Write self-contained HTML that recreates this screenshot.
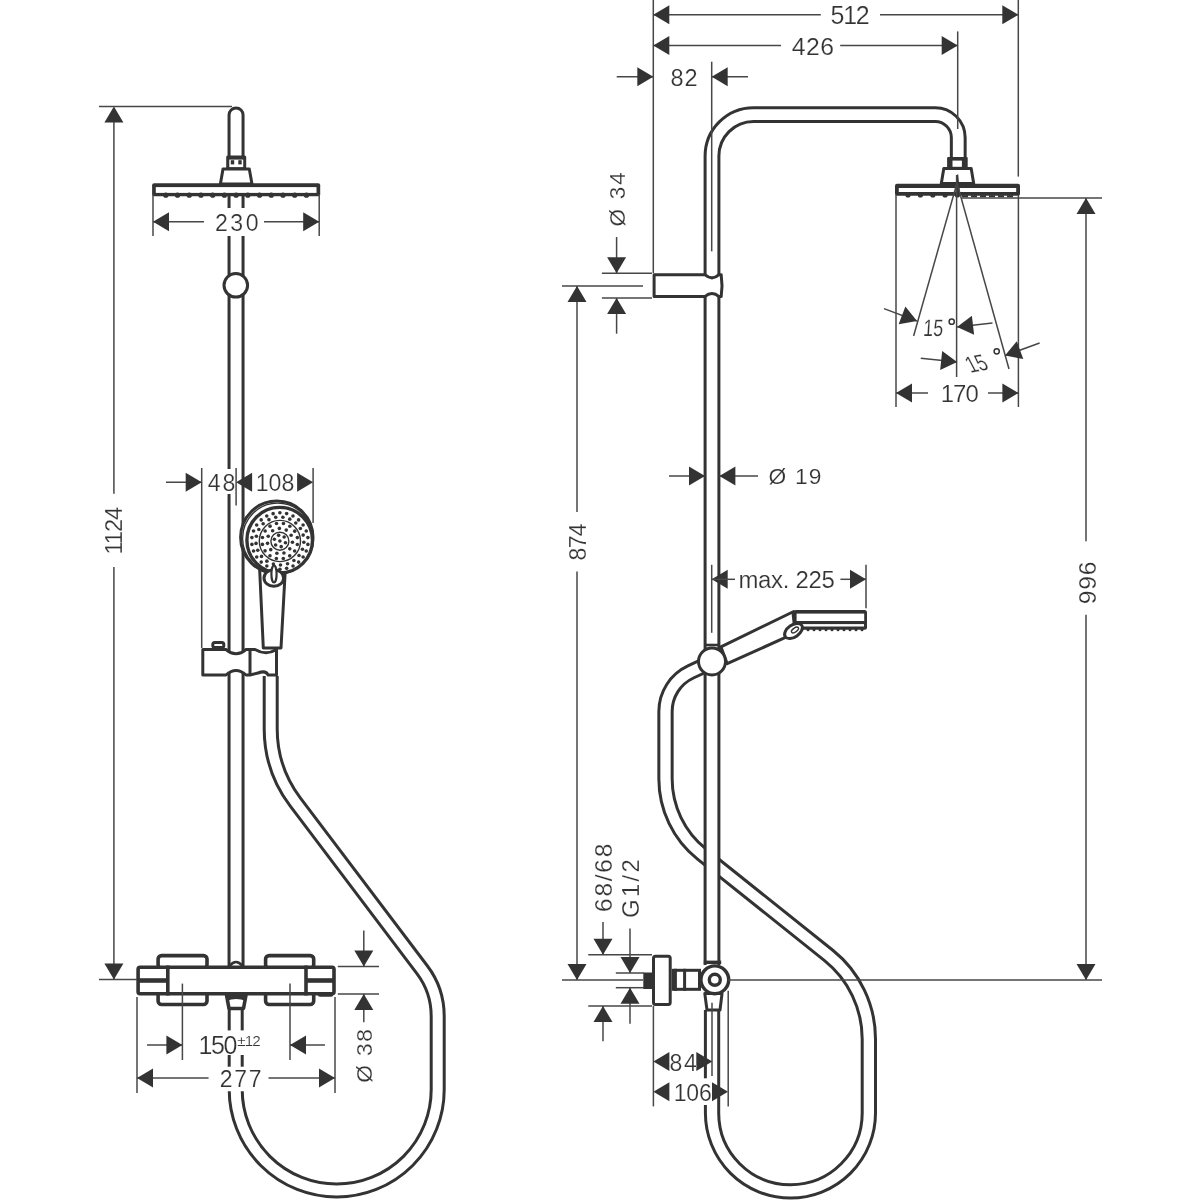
<!DOCTYPE html>
<html><head><meta charset="utf-8"><style>
html,body{margin:0;padding:0;background:#fff;width:1200px;height:1200px;overflow:hidden}
svg{display:block;will-change:transform}
text{font-family:"Liberation Sans",sans-serif;fill:#333;stroke:#fff;stroke-width:0.2px}
</style></head><body>
<svg width="1200" height="1200" viewBox="0 0 1200 1200">
<rect width="1200" height="1200" fill="#fff"/>
<path d="M270.7,676 L270.7,728.73 A121.5,121.5 0 0 0 295.3,802.02 L422.11,969.69 A77,77 0 0 1 437.7,1016.14 L437.7,1089.5 A101,101 0 0 1 235.7,1089.5 L235.7,1004" fill="none" stroke="#333" stroke-width="16" stroke-linecap="butt" stroke-linejoin="round"/>
<path d="M270.7,676 L270.7,728.73 A121.5,121.5 0 0 0 295.3,802.02 L422.11,969.69 A77,77 0 0 1 437.7,1016.14 L437.7,1089.5 A101,101 0 0 1 235.7,1089.5 L235.7,1004" fill="none" stroke="#fff" stroke-width="10" stroke-linecap="butt" stroke-linejoin="round"/>
<path d="M236.05,115 L236.05,966" fill="none" stroke="#333" stroke-width="17" stroke-linecap="round" stroke-linejoin="round"/>
<path d="M236.05,115 L236.05,966" fill="none" stroke="#fff" stroke-width="11" stroke-linecap="round" stroke-linejoin="round"/>
<rect x="226.2" y="155.4" width="20" height="14" rx="1.5" fill="#333"/>
<rect x="229.3" y="159.6" width="13.9" height="7.6" fill="#fff"/>
<rect x="230.8" y="160.2" width="3.4" height="4.2" fill="#333"/>
<rect x="238.3" y="160.2" width="3.4" height="4.2" fill="#333"/>
<polygon points="223,169 249.3,169 252,184 220.4,184" fill="#fff" stroke="#333" stroke-width="3.0" stroke-linejoin="round" />
<rect x="152.1" y="183.3" width="168.1" height="13" rx="2" fill="#333"/>
<rect x="155.8" y="187.1" width="160.7" height="5.8" fill="#fff"/>
<circle cx="165.8" cy="195.2" r="2.6" fill="#333"/>
<circle cx="177.52" cy="195.2" r="2.6" fill="#333"/>
<circle cx="189.24" cy="195.2" r="2.6" fill="#333"/>
<circle cx="200.96" cy="195.2" r="2.6" fill="#333"/>
<circle cx="212.68" cy="195.2" r="2.6" fill="#333"/>
<circle cx="224.4" cy="195.2" r="2.6" fill="#333"/>
<circle cx="236.12" cy="195.2" r="2.6" fill="#333"/>
<circle cx="247.84" cy="195.2" r="2.6" fill="#333"/>
<circle cx="259.56" cy="195.2" r="2.6" fill="#333"/>
<circle cx="271.28" cy="195.2" r="2.6" fill="#333"/>
<circle cx="283" cy="195.2" r="2.6" fill="#333"/>
<circle cx="294.72" cy="195.2" r="2.6" fill="#333"/>
<circle cx="306.44" cy="195.2" r="2.6" fill="#333"/>
<circle cx="235.8" cy="285.3" r="11.8" fill="#fff" stroke="#333" stroke-width="3.0"/>
<polygon points="259.5,566 285.5,566 281,648 263.3,648" fill="#fff" stroke="#333" stroke-width="3.0" stroke-linejoin="round" />
<circle cx="276.8" cy="537.3" r="36.2" fill="#fff" stroke="#333" stroke-width="3.0"/>
<circle cx="277.6" cy="538.2" r="35" fill="none" stroke="#333" stroke-width="1.3"/>
<circle cx="279.7" cy="540.2" r="32.8" fill="#fff" stroke="#333" stroke-width="3.4"/>
<circle cx="279.9" cy="541" r="20.6" fill="none" stroke="#333" stroke-width="1.4"/>
<circle cx="279.9" cy="541.2" r="9" fill="none" stroke="#333" stroke-width="1.4"/>
<circle cx="279.9" cy="541" r="1.8" fill="#333"/><circle cx="285.44" cy="542.71" r="1.8" fill="#333"/><circle cx="281.19" cy="546.66" r="1.8" fill="#333"/><circle cx="275.65" cy="544.94" r="1.8" fill="#333"/><circle cx="274.36" cy="539.29" r="1.8" fill="#333"/><circle cx="278.61" cy="535.34" r="1.8" fill="#333"/><circle cx="284.15" cy="537.06" r="1.8" fill="#333"/><circle cx="292.44" cy="542.26" r="1.8" fill="#333"/><circle cx="289.77" cy="548.84" r="1.8" fill="#333"/><circle cx="283.96" cy="552.93" r="1.8" fill="#333"/><circle cx="276.87" cy="553.23" r="1.8" fill="#333"/><circle cx="270.74" cy="549.65" r="1.8" fill="#333"/><circle cx="267.52" cy="543.33" r="1.8" fill="#333"/><circle cx="268.23" cy="536.26" r="1.8" fill="#333"/><circle cx="272.64" cy="530.7" r="1.8" fill="#333"/><circle cx="279.36" cy="528.41" r="1.8" fill="#333"/><circle cx="286.25" cy="530.12" r="1.8" fill="#333"/><circle cx="291.13" cy="535.28" r="1.8" fill="#333"/><circle cx="297.35" cy="544.54" r="1.8" fill="#333"/><circle cx="294.66" cy="550.94" r="1.8" fill="#333"/><circle cx="289.74" cy="555.84" r="1.8" fill="#333"/><circle cx="283.31" cy="558.47" r="1.8" fill="#333"/><circle cx="276.36" cy="558.45" r="1.8" fill="#333"/><circle cx="269.96" cy="555.76" r="1.8" fill="#333"/><circle cx="265.06" cy="550.84" r="1.8" fill="#333"/><circle cx="262.43" cy="544.41" r="1.8" fill="#333"/><circle cx="262.45" cy="537.46" r="1.8" fill="#333"/><circle cx="265.14" cy="531.06" r="1.8" fill="#333"/><circle cx="270.06" cy="526.16" r="1.8" fill="#333"/><circle cx="276.49" cy="523.53" r="1.8" fill="#333"/><circle cx="283.44" cy="523.55" r="1.8" fill="#333"/><circle cx="289.84" cy="526.24" r="1.8" fill="#333"/><circle cx="294.74" cy="531.16" r="1.8" fill="#333"/><circle cx="297.37" cy="537.59" r="1.8" fill="#333"/><circle cx="303.87" cy="542.2" r="1.8" fill="#333"/><circle cx="302.45" cy="549.21" r="1.8" fill="#333"/><circle cx="299.03" cy="555.49" r="1.8" fill="#333"/><circle cx="293.91" cy="560.49" r="1.8" fill="#333"/><circle cx="287.54" cy="563.75" r="1.8" fill="#333"/><circle cx="280.5" cy="564.99" r="1.8" fill="#333"/><circle cx="273.4" cy="564.1" r="1.8" fill="#333"/><circle cx="266.88" cy="561.16" r="1.8" fill="#333"/><circle cx="261.51" cy="556.42" r="1.8" fill="#333"/><circle cx="257.78" cy="550.32" r="1.8" fill="#333"/><circle cx="256.02" cy="543.39" r="1.8" fill="#333"/><circle cx="256.38" cy="536.24" r="1.8" fill="#333"/><circle cx="258.82" cy="529.52" r="1.8" fill="#333"/><circle cx="263.14" cy="523.82" r="1.8" fill="#333"/><circle cx="268.95" cy="519.64" r="1.8" fill="#333"/><circle cx="275.74" cy="517.36" r="1.8" fill="#333"/><circle cx="282.89" cy="517.19" r="1.8" fill="#333"/><circle cx="289.77" cy="519.13" r="1.8" fill="#333"/><circle cx="295.78" cy="523.01" r="1.8" fill="#333"/><circle cx="300.38" cy="528.49" r="1.8" fill="#333"/><circle cx="303.16" cy="535.08" r="1.8" fill="#333"/><circle cx="307.9" cy="544.38" r="1.8" fill="#333"/><circle cx="306.28" cy="550.98" r="1.8" fill="#333"/><circle cx="303.12" cy="557" r="1.8" fill="#333"/><circle cx="298.62" cy="562.09" r="1.8" fill="#333"/><circle cx="293.03" cy="565.96" r="1.8" fill="#333"/><circle cx="286.67" cy="568.37" r="1.8" fill="#333"/><circle cx="279.92" cy="569.2" r="1.8" fill="#333"/><circle cx="273.17" cy="568.39" r="1.8" fill="#333"/><circle cx="266.82" cy="565.98" r="1.8" fill="#333"/><circle cx="261.22" cy="562.12" r="1.8" fill="#333"/><circle cx="256.71" cy="557.04" r="1.8" fill="#333"/><circle cx="253.54" cy="551.02" r="1.8" fill="#333"/><circle cx="251.91" cy="544.42" r="1.8" fill="#333"/><circle cx="251.9" cy="537.62" r="1.8" fill="#333"/><circle cx="253.52" cy="531.02" r="1.8" fill="#333"/><circle cx="256.68" cy="525" r="1.8" fill="#333"/><circle cx="261.18" cy="519.91" r="1.8" fill="#333"/><circle cx="266.77" cy="516.04" r="1.8" fill="#333"/><circle cx="273.13" cy="513.63" r="1.8" fill="#333"/><circle cx="279.88" cy="512.8" r="1.8" fill="#333"/><circle cx="286.63" cy="513.61" r="1.8" fill="#333"/><circle cx="292.98" cy="516.02" r="1.8" fill="#333"/><circle cx="298.58" cy="519.88" r="1.8" fill="#333"/><circle cx="303.09" cy="524.96" r="1.8" fill="#333"/><circle cx="306.26" cy="530.98" r="1.8" fill="#333"/><circle cx="307.89" cy="537.58" r="1.8" fill="#333"/>
<ellipse cx="273.8" cy="578" rx="9.8" ry="8.2" fill="#fff" stroke="#333" stroke-width="3"/>
<ellipse cx="274" cy="574" rx="2.6" ry="8.5" fill="#fff" stroke="#333" stroke-width="2.2"/>
<path d="M202.8,649.5 L226,649.5 Q236,658 246,649.5 L255,649.5 Q266,656 276.5,649.5 L276.5,675 L268,675 Q266,670 258,673 L250,675 L246,675 Q236,666 226,675 L202.8,675 Z" fill="#fff" stroke="#333" stroke-width="3.0" stroke-linejoin="round" />
<line x1="250" y1="649.5" x2="250" y2="675" stroke="#333" stroke-width="3.0" stroke-linecap="butt"/>
<rect x="212.8" y="642.5" width="11" height="5" rx="2" fill="#fff" stroke="#333" stroke-width="3.0"/>
<rect x="158.1" y="955.6" width="48.9" height="12.6" rx="3.5" fill="#fff" stroke="#333" stroke-width="3.6"/>
<rect x="265.6" y="955.6" width="48.1" height="12.6" rx="3.5" fill="#fff" stroke="#333" stroke-width="3.6"/>
<rect x="158.1" y="991.8" width="48.9" height="12.7" rx="3.5" fill="#fff" stroke="#333" stroke-width="3.6"/>
<rect x="265.6" y="991.8" width="48.1" height="12.7" rx="3.5" fill="#fff" stroke="#333" stroke-width="3.6"/>
<rect x="138.1" y="967.3" width="195.9" height="26.4" rx="2" fill="#fff" stroke="#333" stroke-width="3.6"/>
<line x1="167.8" y1="965.5" x2="167.8" y2="995.5" stroke="#333" stroke-width="3.6" stroke-linecap="butt"/>
<line x1="306" y1="965.5" x2="306" y2="995.5" stroke="#333" stroke-width="3.6" stroke-linecap="butt"/>
<line x1="137" y1="980.5" x2="167.8" y2="980.5" stroke="#333" stroke-width="4.6" stroke-linecap="butt"/>
<line x1="306" y1="980.5" x2="335" y2="980.5" stroke="#333" stroke-width="4.6" stroke-linecap="butt"/>
<polygon points="226.5,995 246,995 243.5,1008.5 229,1008.5" fill="#fff" stroke="#333" stroke-width="3.6" stroke-linejoin="round" />
<path d="M225.5,993.5 L247,993.5 L246,1001 Q236,997 226.5,1001 Z" fill="#333"/>
<path d="M229.5,966 Q236,958 242.5,966" fill="none" stroke="#333" stroke-width="2.6"/>
<line x1="320" y1="994.5" x2="331" y2="994.5" stroke="#333" stroke-width="4.5" stroke-linecap="round"/>
<line x1="99" y1="106.6" x2="232" y2="106.6" stroke="#474747" stroke-width="1.5" stroke-linecap="butt"/>
<line x1="99" y1="979.4" x2="137" y2="979.4" stroke="#474747" stroke-width="1.5" stroke-linecap="butt"/>
<line x1="113.9" y1="108" x2="113.9" y2="493.7" stroke="#474747" stroke-width="1.5" stroke-linecap="butt"/>
<line x1="113.9" y1="567.1" x2="113.9" y2="980" stroke="#474747" stroke-width="1.5" stroke-linecap="butt"/>
<polygon points="113.9,106.6 123.4,122.6 104.4,122.6" fill="#333" stroke="none" stroke-width="0" stroke-linejoin="round" />
<polygon points="113.9,979.4 104.4,963.4 123.4,963.4" fill="#333" stroke="none" stroke-width="0" stroke-linejoin="round" />
<text x="113.88" y="539.06" font-size="23.62" text-anchor="middle" textLength="47.66" lengthAdjust="spacing" transform="rotate(-90 113.88 530.68)">1124</text>
<line x1="153" y1="194" x2="153" y2="236" stroke="#474747" stroke-width="1.5" stroke-linecap="butt"/>
<line x1="319.2" y1="194" x2="319.2" y2="236" stroke="#474747" stroke-width="1.5" stroke-linecap="butt"/>
<line x1="153" y1="221.7" x2="204" y2="221.7" stroke="#474747" stroke-width="1.5" stroke-linecap="butt"/>
<line x1="264" y1="221.7" x2="319.2" y2="221.7" stroke="#474747" stroke-width="1.5" stroke-linecap="butt"/>
<polygon points="153,221.7 169,212.2 169,231.2" fill="#333" stroke="none" stroke-width="0" stroke-linejoin="round" />
<polygon points="319.2,221.7 303.2,231.2 303.2,212.2" fill="#333" stroke="none" stroke-width="0" stroke-linejoin="round" />
<rect x="204" y="208" width="60" height="28" fill="#fff"/>
<text x="236.76" y="230.81" font-size="23.12" text-anchor="middle" textLength="43.58" lengthAdjust="spacing">230</text>
<line x1="201.7" y1="468" x2="201.7" y2="648" stroke="#474747" stroke-width="1.5" stroke-linecap="butt"/>
<line x1="313.1" y1="468" x2="313.1" y2="523" stroke="#474747" stroke-width="1.5" stroke-linecap="butt"/>
<line x1="166" y1="482.2" x2="201.7" y2="482.2" stroke="#474747" stroke-width="1.5" stroke-linecap="butt"/>
<polygon points="201.7,482.2 185.7,491.7 185.7,472.7" fill="#333" stroke="none" stroke-width="0" stroke-linejoin="round" />
<rect x="206" y="469" width="29" height="25" fill="#fff"/>
<text x="221.5" y="491.33" font-size="23.14" text-anchor="middle" textLength="27.54" lengthAdjust="spacing">48</text>
<line x1="236.1" y1="468" x2="236.1" y2="505.5" stroke="#474747" stroke-width="1.5" stroke-linecap="butt"/>
<polygon points="236.1,482.2 252.1,472.7 252.1,491.7" fill="#333" stroke="none" stroke-width="0" stroke-linejoin="round" />
<text x="275" y="491.33" font-size="23.14" text-anchor="middle" textLength="38.54" lengthAdjust="spacing">108</text>
<polygon points="313.1,482.2 297.1,491.7 297.1,472.7" fill="#333" stroke="none" stroke-width="0" stroke-linejoin="round" />
<line x1="182.4" y1="983.6" x2="182.4" y2="1060" stroke="#474747" stroke-width="1.5" stroke-linecap="butt"/>
<line x1="290" y1="983.6" x2="290" y2="1060" stroke="#474747" stroke-width="1.5" stroke-linecap="butt"/>
<line x1="147" y1="1045" x2="182.4" y2="1045" stroke="#474747" stroke-width="1.5" stroke-linecap="butt"/>
<polygon points="182.4,1045 166.4,1054.5 166.4,1035.5" fill="#333" stroke="none" stroke-width="0" stroke-linejoin="round" />
<line x1="290" y1="1045" x2="325" y2="1045" stroke="#474747" stroke-width="1.5" stroke-linecap="butt"/>
<polygon points="290,1045 306,1035.5 306,1054.5" fill="#333" stroke="none" stroke-width="0" stroke-linejoin="round" />
<rect x="197" y="1030.4" width="65" height="24.6" fill="#fff"/>
<text x="218" y="1054.41" font-size="24.98" text-anchor="middle" textLength="38.78" lengthAdjust="spacing">150</text>
<text x="249.04" y="1045.53" font-size="15.25" text-anchor="middle" textLength="23.42" lengthAdjust="spacing">±12</text>
<line x1="137" y1="997" x2="137" y2="1093" stroke="#474747" stroke-width="1.5" stroke-linecap="butt"/>
<line x1="335" y1="997" x2="335" y2="1093" stroke="#474747" stroke-width="1.5" stroke-linecap="butt"/>
<line x1="137" y1="1078" x2="208.75" y2="1078" stroke="#474747" stroke-width="1.5" stroke-linecap="butt"/>
<line x1="268.3" y1="1078" x2="335" y2="1078" stroke="#474747" stroke-width="1.5" stroke-linecap="butt"/>
<polygon points="137,1078 153,1068.5 153,1087.5" fill="#333" stroke="none" stroke-width="0" stroke-linejoin="round" />
<polygon points="335,1078 319,1087.5 319,1068.5" fill="#333" stroke="none" stroke-width="0" stroke-linejoin="round" />
<rect x="208.75" y="1066.7" width="59.55" height="24.55" fill="#fff"/>
<text x="240.64" y="1087.34" font-size="23.03" text-anchor="middle" textLength="41.74" lengthAdjust="spacing">277</text>
<line x1="337.8" y1="966.6" x2="379" y2="966.6" stroke="#474747" stroke-width="1.5" stroke-linecap="butt"/>
<line x1="337.8" y1="993.9" x2="379" y2="993.9" stroke="#474747" stroke-width="1.5" stroke-linecap="butt"/>
<line x1="363.8" y1="930.4" x2="363.8" y2="966.6" stroke="#474747" stroke-width="1.5" stroke-linecap="butt"/>
<polygon points="363.8,966.6 354.3,950.6 373.3,950.6" fill="#333" stroke="none" stroke-width="0" stroke-linejoin="round" />
<line x1="363.8" y1="993.9" x2="363.8" y2="1022.3" stroke="#474747" stroke-width="1.5" stroke-linecap="butt"/>
<polygon points="363.8,993.9 373.3,1009.9 354.3,1009.9" fill="#333" stroke="none" stroke-width="0" stroke-linejoin="round" />
<text x="364.16" y="1063.99" font-size="22.72" text-anchor="middle" textLength="53.5" lengthAdjust="spacing" transform="rotate(-90 364.16 1055.92)">Ø 38</text>
<path d="M712,662 L690.66,671.96 A43.6,43.6 0 0 0 665.5,711.47 L665.5,778.7 A96.3,96.3 0 0 0 701.66,853.91 L828.67,955.47 A107,107 0 0 1 868.85,1039.04 L868.85,1113 A78.4,78.4 0 0 1 712.05,1113 L712.05,1010" fill="none" stroke="#333" stroke-width="16.3" stroke-linecap="butt" stroke-linejoin="round"/>
<path d="M712,662 L690.66,671.96 A43.6,43.6 0 0 0 665.5,711.47 L665.5,778.7 A96.3,96.3 0 0 0 701.66,853.91 L828.67,955.47 A107,107 0 0 1 868.85,1039.04 L868.85,1113 A78.4,78.4 0 0 1 712.05,1113 L712.05,1010" fill="none" stroke="#fff" stroke-width="10.3" stroke-linecap="butt" stroke-linejoin="round"/>
<path d="M712,965 L712,156.1 A41.5,41.5 0 0 1 753.5,114.6 L935.25,114.6 A23,23 0 0 1 958.25,137.6 L958.25,157" fill="none" stroke="#333" stroke-width="16.8" stroke-linecap="butt" stroke-linejoin="round"/>
<path d="M712,965 L712,156.1 A41.5,41.5 0 0 1 753.5,114.6 L935.25,114.6 A23,23 0 0 1 958.25,137.6 L958.25,157" fill="none" stroke="#fff" stroke-width="10.8" stroke-linecap="butt" stroke-linejoin="round"/>
<line x1="711.7" y1="61.7" x2="711.7" y2="251.4" stroke="#474747" stroke-width="1.5" stroke-linecap="butt"/>
<rect x="947.1" y="156.9" width="20.6" height="12" rx="1" fill="#333"/>
<rect x="952.5" y="160.6" width="9.4" height="6.2" fill="#fff"/>
<polygon points="943.8,168.5 971.2,168.5 973.7,183.5 941.3,183.5" fill="#fff" stroke="#333" stroke-width="3.0" stroke-linejoin="round" />
<rect x="895" y="183.7" width="125" height="12" rx="2" fill="#333"/>
<rect x="898.8" y="188" width="117.4" height="4" fill="#fff"/>
<circle cx="908" cy="195" r="2.6" fill="#333"/>
<circle cx="920.4" cy="195" r="2.6" fill="#333"/>
<circle cx="932.8" cy="195" r="2.6" fill="#333"/>
<circle cx="945.1" cy="195" r="2.6" fill="#333"/>
<circle cx="957.4" cy="195" r="2.6" fill="#333"/>
<line x1="962" y1="196.3" x2="1016" y2="196.3" stroke="#333" stroke-width="2" stroke-dasharray="6 3"/>
<polygon points="957,174.5 958.2,174.5 960.3,196 954.9,196" fill="#333" stroke="none" stroke-width="0" stroke-linejoin="round" />
<path d="M654.1,274.7 L704.8,274.7 Q712,281 719.1,274.7 L721.2,274.7 Q722.8,286 721.2,296.6 L719.1,296.6 Q712,290.5 704.8,296.6 L654.1,296.6 Z" fill="#fff" stroke="#333" stroke-width="3.0" stroke-linejoin="round" />
<polygon points="720.9,646.8 793.7,611.5 797,630 785,637.6 727.2,663.7" fill="#fff" stroke="#333" stroke-width="3.0" stroke-linejoin="round" />
<rect x="793.7" y="610" width="73.3" height="19.7" rx="2.5" fill="#333"/>
<rect x="796.6" y="613.6" width="67.6" height="7.4" fill="#fff"/>
<rect x="797" y="624.1" width="67" height="2.4" fill="#fff"/>
<line x1="792.5" y1="612" x2="794" y2="626" stroke="#333" stroke-width="2.2" stroke-linecap="butt"/>
<circle cx="808" cy="629.8" r="1.5" fill="#333"/>
<circle cx="814" cy="629.8" r="1.5" fill="#333"/>
<circle cx="820" cy="629.8" r="1.5" fill="#333"/>
<circle cx="826" cy="629.8" r="1.5" fill="#333"/>
<circle cx="832" cy="629.8" r="1.5" fill="#333"/>
<circle cx="838" cy="629.8" r="1.5" fill="#333"/>
<circle cx="844" cy="629.8" r="1.5" fill="#333"/>
<circle cx="850" cy="629.8" r="1.5" fill="#333"/>
<circle cx="856" cy="629.8" r="1.5" fill="#333"/>
<circle cx="862" cy="629.8" r="1.5" fill="#333"/>
<line x1="704.5" y1="645" x2="719.5" y2="645" stroke="#333" stroke-width="2.6" stroke-linecap="butt"/>
<ellipse cx="793.5" cy="631" rx="10" ry="6" transform="rotate(-35 793.5 631)" fill="#fff" stroke="#333" stroke-width="3"/>
<ellipse cx="795" cy="630" rx="4" ry="2" transform="rotate(-35 795 630)" fill="none" stroke="#333" stroke-width="1.4"/>
<circle cx="712" cy="661.5" r="13.5" fill="#fff" stroke="#333" stroke-width="3.0"/>
<rect x="673.2" y="970.3" width="26.3" height="19" rx="0" fill="#fff" stroke="#333" stroke-width="3.0"/>
<line x1="675.4" y1="968.8" x2="675.4" y2="990.8" stroke="#333" stroke-width="3.0" stroke-linecap="butt"/>
<line x1="684.6" y1="968.8" x2="684.6" y2="990.8" stroke="#333" stroke-width="3.0" stroke-linecap="butt"/>
<rect x="644.8" y="974" width="6.7" height="13.5" rx="0" fill="#333" stroke="#333" stroke-width="3.0"/>
<rect x="653.5" y="956.2" width="16.7" height="48.3" rx="2" fill="#fff" stroke="#333" stroke-width="3.0"/>
<polygon points="704.8,993.6 722,993.6 720,1010 707,1010" fill="#fff" stroke="#333" stroke-width="3.0" stroke-linejoin="round" />
<line x1="703.8" y1="962.3" x2="721.2" y2="962.3" stroke="#333" stroke-width="3.4" stroke-linecap="butt"/>
<circle cx="714.8" cy="979.8" r="13.9" fill="#fff" stroke="#333" stroke-width="3.4"/>
<circle cx="714.8" cy="979.8" r="5.5" fill="#fff" stroke="#333" stroke-width="3.4"/>
<line x1="653.3" y1="0" x2="653.3" y2="273.2" stroke="#474747" stroke-width="1.5" stroke-linecap="butt"/>
<line x1="1018.3" y1="0" x2="1018.3" y2="176.6" stroke="#474747" stroke-width="1.5" stroke-linecap="butt"/>
<line x1="957.7" y1="31.4" x2="957.7" y2="129" stroke="#474747" stroke-width="1.5" stroke-linecap="butt"/>
<line x1="653.3" y1="14.7" x2="820.8" y2="14.7" stroke="#474747" stroke-width="1.5" stroke-linecap="butt"/>
<line x1="880" y1="14.7" x2="1018.3" y2="14.7" stroke="#474747" stroke-width="1.5" stroke-linecap="butt"/>
<polygon points="653.3,14.7 669.3,5.2 669.3,24.2" fill="#333" stroke="none" stroke-width="0" stroke-linejoin="round" />
<polygon points="1018.3,14.7 1002.3,24.2 1002.3,5.2" fill="#333" stroke="none" stroke-width="0" stroke-linejoin="round" />
<text x="850.14" y="24.41" font-size="24.98" text-anchor="middle" textLength="39.14" lengthAdjust="spacing">512</text>
<line x1="653.3" y1="45.5" x2="781" y2="45.5" stroke="#474747" stroke-width="1.5" stroke-linecap="butt"/>
<line x1="840.2" y1="45.5" x2="957.7" y2="45.5" stroke="#474747" stroke-width="1.5" stroke-linecap="butt"/>
<polygon points="653.3,45.5 669.3,36 669.3,55" fill="#333" stroke="none" stroke-width="0" stroke-linejoin="round" />
<polygon points="957.7,45.5 941.7,55 941.7,36" fill="#333" stroke="none" stroke-width="0" stroke-linejoin="round" />
<text x="812.9" y="54.87" font-size="24.77" text-anchor="middle" textLength="42.26" lengthAdjust="spacing">426</text>
<line x1="616.7" y1="76.7" x2="653.3" y2="76.7" stroke="#474747" stroke-width="1.5" stroke-linecap="butt"/>
<polygon points="653.3,76.7 637.3,86.2 637.3,67.2" fill="#333" stroke="none" stroke-width="0" stroke-linejoin="round" />
<line x1="711.7" y1="76.7" x2="748" y2="76.7" stroke="#474747" stroke-width="1.5" stroke-linecap="butt"/>
<polygon points="711.7,76.7 727.7,67.2 727.7,86.2" fill="#333" stroke="none" stroke-width="0" stroke-linejoin="round" />
<text x="684" y="85.82" font-size="23.54" text-anchor="middle" textLength="26.94" lengthAdjust="spacing">82</text>
<line x1="601.9" y1="273.2" x2="652" y2="273.2" stroke="#474747" stroke-width="1.5" stroke-linecap="butt"/>
<line x1="601.9" y1="298.1" x2="652" y2="298.1" stroke="#474747" stroke-width="1.5" stroke-linecap="butt"/>
<line x1="616.6" y1="237" x2="616.6" y2="273.2" stroke="#474747" stroke-width="1.5" stroke-linecap="butt"/>
<polygon points="616.6,273.2 607.1,257.2 626.1,257.2" fill="#333" stroke="none" stroke-width="0" stroke-linejoin="round" />
<line x1="616.6" y1="298.1" x2="616.6" y2="333.7" stroke="#474747" stroke-width="1.5" stroke-linecap="butt"/>
<polygon points="616.6,298.1 626.1,314.1 607.1,314.1" fill="#333" stroke="none" stroke-width="0" stroke-linejoin="round" />
<text x="617.16" y="207.41" font-size="22.56" text-anchor="middle" textLength="54.3" lengthAdjust="spacing" transform="rotate(-90 617.16 199.4)">Ø 34</text>
<line x1="562" y1="285.9" x2="643" y2="285.9" stroke="#474747" stroke-width="1.5" stroke-linecap="butt"/>
<line x1="577" y1="286" x2="577" y2="512" stroke="#474747" stroke-width="1.5" stroke-linecap="butt"/>
<line x1="577" y1="571.6" x2="577" y2="980" stroke="#474747" stroke-width="1.5" stroke-linecap="butt"/>
<polygon points="577,285.9 586.5,301.9 567.5,301.9" fill="#333" stroke="none" stroke-width="0" stroke-linejoin="round" />
<polygon points="577,980 567.5,964 586.5,964" fill="#333" stroke="none" stroke-width="0" stroke-linejoin="round" />
<text x="577.64" y="550.07" font-size="23.14" text-anchor="middle" textLength="37.22" lengthAdjust="spacing" transform="rotate(-90 577.64 541.86)">874</text>
<line x1="562" y1="980" x2="643" y2="980" stroke="#474747" stroke-width="1.5" stroke-linecap="butt"/>
<line x1="728" y1="980" x2="1102" y2="980" stroke="#474747" stroke-width="1.5" stroke-linecap="butt"/>
<line x1="962" y1="198.1" x2="1102" y2="198.1" stroke="#474747" stroke-width="1.5" stroke-linecap="butt"/>
<line x1="1086" y1="198" x2="1086" y2="541.3" stroke="#474747" stroke-width="1.5" stroke-linecap="butt"/>
<line x1="1086" y1="614.8" x2="1086" y2="980" stroke="#474747" stroke-width="1.5" stroke-linecap="butt"/>
<polygon points="1086,198.1 1095.5,214.1 1076.5,214.1" fill="#333" stroke="none" stroke-width="0" stroke-linejoin="round" />
<polygon points="1086,980 1076.5,964 1095.5,964" fill="#333" stroke="none" stroke-width="0" stroke-linejoin="round" />
<text x="1086.96" y="591.6" font-size="24.62" text-anchor="middle" textLength="42.82" lengthAdjust="spacing" transform="rotate(-90 1086.96 582.86)">996</text>
<line x1="896" y1="195" x2="896" y2="407" stroke="#474747" stroke-width="1.5" stroke-linecap="butt"/>
<line x1="1018.4" y1="195" x2="1018.4" y2="407" stroke="#474747" stroke-width="1.5" stroke-linecap="butt"/>
<line x1="896" y1="393" x2="928" y2="393" stroke="#474747" stroke-width="1.5" stroke-linecap="butt"/>
<line x1="988" y1="393" x2="1018.4" y2="393" stroke="#474747" stroke-width="1.5" stroke-linecap="butt"/>
<polygon points="896,393 912,383.5 912,402.5" fill="#333" stroke="none" stroke-width="0" stroke-linejoin="round" />
<polygon points="1018.4,393 1002.4,402.5 1002.4,383.5" fill="#333" stroke="none" stroke-width="0" stroke-linejoin="round" />
<text x="959.7" y="402" font-size="23.94" text-anchor="middle" textLength="38.1" lengthAdjust="spacing">170</text>
<line x1="956.6" y1="175" x2="956.6" y2="377" stroke="#474747" stroke-width="1.5" stroke-linecap="butt"/>
<line x1="957" y1="183" x2="913.6" y2="336" stroke="#474747" stroke-width="1.5" stroke-linecap="butt"/>
<line x1="957" y1="183" x2="1009" y2="369" stroke="#474747" stroke-width="1.5" stroke-linecap="butt"/>
<line x1="884" y1="308.6" x2="917" y2="321" stroke="#474747" stroke-width="1.5" stroke-linecap="butt"/>
<polygon points="917,321 898.68,324.26 905.36,306.48" fill="#333" stroke="none" stroke-width="0" stroke-linejoin="round" />
<line x1="992.5" y1="322.9" x2="957.1" y2="327.1" stroke="#474747" stroke-width="1.5" stroke-linecap="butt"/>
<polygon points="957.1,327.1 971.87,315.78 974.11,334.65" fill="#333" stroke="none" stroke-width="0" stroke-linejoin="round" />
<line x1="920.8" y1="358.3" x2="957.1" y2="362.1" stroke="#474747" stroke-width="1.5" stroke-linecap="butt"/>
<polygon points="957.1,362.1 940.2,369.88 942.18,350.99" fill="#333" stroke="none" stroke-width="0" stroke-linejoin="round" />
<line x1="1039.6" y1="343" x2="1005" y2="355.6" stroke="#474747" stroke-width="1.5" stroke-linecap="butt"/>
<polygon points="1005,355.6 1016.78,341.2 1023.28,359.05" fill="#333" stroke="none" stroke-width="0" stroke-linejoin="round" />
<g transform="translate(932.8 336) skewX(-4)"><text x="0" y="0" font-size="23.5" text-anchor="middle" textLength="20" lengthAdjust="spacingAndGlyphs">15</text></g>
<circle cx="951.7" cy="321.7" r="2.6" fill="none" stroke="#333" stroke-width="1.5"/>
<g transform="translate(980.3 371) rotate(-10) skewX(18)"><text x="0" y="0" font-size="23.5" text-anchor="middle" textLength="20" lengthAdjust="spacingAndGlyphs">15</text></g>
<circle cx="996.7" cy="351.3" r="2.6" fill="none" stroke="#333" stroke-width="1.5"/>
<line x1="669" y1="476" x2="705" y2="476" stroke="#474747" stroke-width="1.5" stroke-linecap="butt"/>
<polygon points="705,476 689,485.5 689,466.5" fill="#333" stroke="none" stroke-width="0" stroke-linejoin="round" />
<line x1="719.4" y1="476" x2="758" y2="476" stroke="#474747" stroke-width="1.5" stroke-linecap="butt"/>
<polygon points="719.4,476 735.4,466.5 735.4,485.5" fill="#333" stroke="none" stroke-width="0" stroke-linejoin="round" />
<text x="794.92" y="484.17" font-size="22.74" text-anchor="middle" textLength="53.02" lengthAdjust="spacing">Ø 19</text>
<line x1="711.7" y1="564.8" x2="711.7" y2="632.8" stroke="#474747" stroke-width="1.5" stroke-linecap="butt"/>
<polygon points="711.7,579.3 727.7,569.8 727.7,588.8" fill="#333" stroke="none" stroke-width="0" stroke-linejoin="round" />
<line x1="711.7" y1="579.3" x2="735" y2="579.3" stroke="#474747" stroke-width="1.5" stroke-linecap="butt"/>
<text x="786.6" y="588.2" font-size="23.94" text-anchor="middle" textLength="96.3" lengthAdjust="spacing">max. 225</text>
<line x1="840.4" y1="579.3" x2="866" y2="579.3" stroke="#474747" stroke-width="1.5" stroke-linecap="butt"/>
<polygon points="866,579.3 850,588.8 850,569.8" fill="#333" stroke="none" stroke-width="0" stroke-linejoin="round" />
<line x1="866" y1="564.8" x2="866" y2="608.3" stroke="#474747" stroke-width="1.5" stroke-linecap="butt"/>
<line x1="588.3" y1="954.7" x2="652" y2="954.7" stroke="#474747" stroke-width="1.5" stroke-linecap="butt"/>
<line x1="588.3" y1="1006" x2="652" y2="1006" stroke="#474747" stroke-width="1.5" stroke-linecap="butt"/>
<line x1="603" y1="922" x2="603" y2="954.7" stroke="#474747" stroke-width="1.5" stroke-linecap="butt"/>
<polygon points="603,954.7 593.5,938.7 612.5,938.7" fill="#333" stroke="none" stroke-width="0" stroke-linejoin="round" />
<line x1="603" y1="1006" x2="603" y2="1041.3" stroke="#474747" stroke-width="1.5" stroke-linecap="butt"/>
<polygon points="603,1006 612.5,1022 593.5,1022" fill="#333" stroke="none" stroke-width="0" stroke-linejoin="round" />
<text x="603.68" y="886.48" font-size="24.51" text-anchor="middle" textLength="68.26" lengthAdjust="spacing" transform="rotate(-90 603.68 877.78)">68/68</text>
<line x1="615.8" y1="973" x2="644" y2="973" stroke="#474747" stroke-width="1.5" stroke-linecap="butt"/>
<line x1="615.8" y1="987.7" x2="644" y2="987.7" stroke="#474747" stroke-width="1.5" stroke-linecap="butt"/>
<line x1="630" y1="928.4" x2="630" y2="973" stroke="#474747" stroke-width="1.5" stroke-linecap="butt"/>
<polygon points="630,973 620.5,957 639.5,957" fill="#333" stroke="none" stroke-width="0" stroke-linejoin="round" />
<line x1="630" y1="987.7" x2="630" y2="1023.8" stroke="#474747" stroke-width="1.5" stroke-linecap="butt"/>
<polygon points="630,987.7 639.5,1003.7 620.5,1003.7" fill="#333" stroke="none" stroke-width="0" stroke-linejoin="round" />
<text x="631" y="897.05" font-size="23.81" text-anchor="middle" textLength="58.86" lengthAdjust="spacing" transform="rotate(-90 631 888.6)">G1/2</text>
<line x1="653.4" y1="1006" x2="653.4" y2="1106.4" stroke="#474747" stroke-width="1.5" stroke-linecap="butt"/>
<line x1="712" y1="1002.7" x2="712" y2="1076" stroke="#474747" stroke-width="1.5" stroke-linecap="butt"/>
<line x1="728.2" y1="990.8" x2="728.2" y2="1106.4" stroke="#474747" stroke-width="1.5" stroke-linecap="butt"/>
<rect x="669.5" y="1078.3" width="43" height="26.7" fill="#fff"/>
<polygon points="653.4,1061.5 669.4,1052 669.4,1071" fill="#333" stroke="none" stroke-width="0" stroke-linejoin="round" />
<polygon points="712.3,1061.5 696.3,1071 696.3,1052" fill="#333" stroke="none" stroke-width="0" stroke-linejoin="round" />
<text x="683.1" y="1070.62" font-size="23.03" text-anchor="middle" textLength="27.3" lengthAdjust="spacing">84</text>
<polygon points="653.4,1091.7 669.4,1082.2 669.4,1101.2" fill="#333" stroke="none" stroke-width="0" stroke-linejoin="round" />
<polygon points="728,1091.7 712,1101.2 712,1082.2" fill="#333" stroke="none" stroke-width="0" stroke-linejoin="round" />
<text x="692.74" y="1100.62" font-size="23.03" text-anchor="middle" textLength="38.02" lengthAdjust="spacing">106</text>
</svg></body></html>
